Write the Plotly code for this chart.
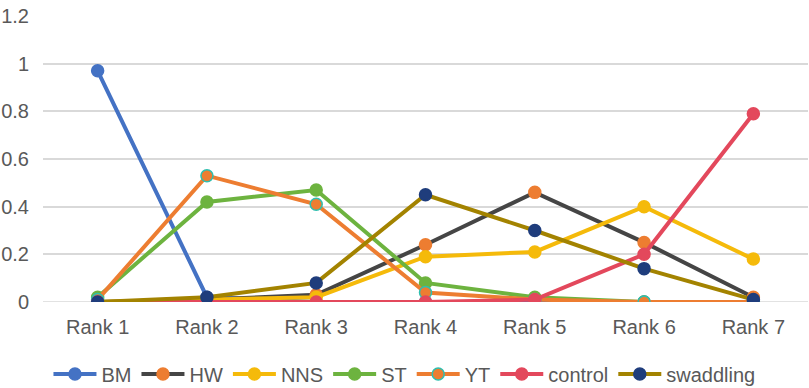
import plotly.graph_objects as go

categories = ["Rank 1", "Rank 2", "Rank 3", "Rank 4", "Rank 5", "Rank 6", "Rank 7"]
BM = [0.97, 0.02, 0.0, 0.0, 0.0, 0.0, 0.0]
HW = [0.0, 0.01, 0.03, 0.24, 0.46, 0.25, 0.02]
NNS = [0.0, 0.01, 0.02, 0.19, 0.21, 0.40, 0.18]
ST = [0.02, 0.42, 0.47, 0.08, 0.02, 0.0, 0.0]
YT = [0.01, 0.53, 0.41, 0.04, 0.01, 0.0, 0.0]
control = [0.0, 0.0, 0.0, 0.0, 0.01, 0.20, 0.79]
swaddling = [0.0, 0.02, 0.08, 0.45, 0.30, 0.14, 0.01]
y_ticks = [0, 0.2, 0.4, 0.6, 0.8, 1, 1.2]
y_tick_labels = ["0", "0.2", "0.4", "0.6", "0.8", "1", "1.2"]

series = [
    ("BM", BM, "#4472C4", "#4472C4", "#4472C4"),
    ("HW", HW, "#454545", "#ED7D31", "#ED7D31"),
    ("NNS", NNS, "#F5BA0A", "#F5BA0A", "#F5BA0A"),
    ("ST", ST, "#6DB33F", "#6DB33F", "#6DB33F"),
    ("YT", YT, "#ED7D31", "#ED7D31", "#2EBFB0"),
    ("control", control, "#E3485C", "#E3485C", "#E3485C"),
    ("swaddling", swaddling, "#A38300", "#1F3D7C", "#1F3D7C"),
]

fig = go.Figure()
for name, vals, lc, mc, ml in series:
    fig.add_trace(go.Scatter(
        x=categories, y=vals, name=name, mode="lines+markers",
        line=dict(color=lc, width=4),
        marker=dict(color=mc, size=12, line=dict(color=ml, width=1.5)),
    ))

fig.update_layout(
    width=809, height=388,
    margin=dict(l=43, r=1, t=16, b=86, autoexpand=False),
    paper_bgcolor="white", plot_bgcolor="white",
    font=dict(family="Liberation Sans, Arial, sans-serif", size=20, color="#595959"),
    showlegend=True,
    legend=dict(orientation="h", x=0.4725, xanchor="center", y=-0.252, yanchor="middle",
                font=dict(size=20, color="#595959"), itemwidth=43, tracegroupgap=0),
)
fig.update_xaxes(range=[-0.5, 6.5], showgrid=False, showline=False, zeroline=False,
                 ticks="", ticklabelstandoff=11, tickfont=dict(size=20, color="#595959"))
fig.update_yaxes(range=[0, 1.2], showgrid=True, gridcolor="#D9D9D9", gridwidth=1.5,
                 zeroline=False, showline=False, ticks="", ticklabelstandoff=13,
                 tickvals=y_ticks, ticktext=y_tick_labels,
                 tickfont=dict(size=20, color="#595959"))
fig.add_hline(y=0, line=dict(color="#D9D9D9", width=1.5), layer="below")

fig.write_html("out.html", config={"displayModeBar": False},
               post_script="document.body.style.margin='0px';document.body.style.overflow='hidden';")
